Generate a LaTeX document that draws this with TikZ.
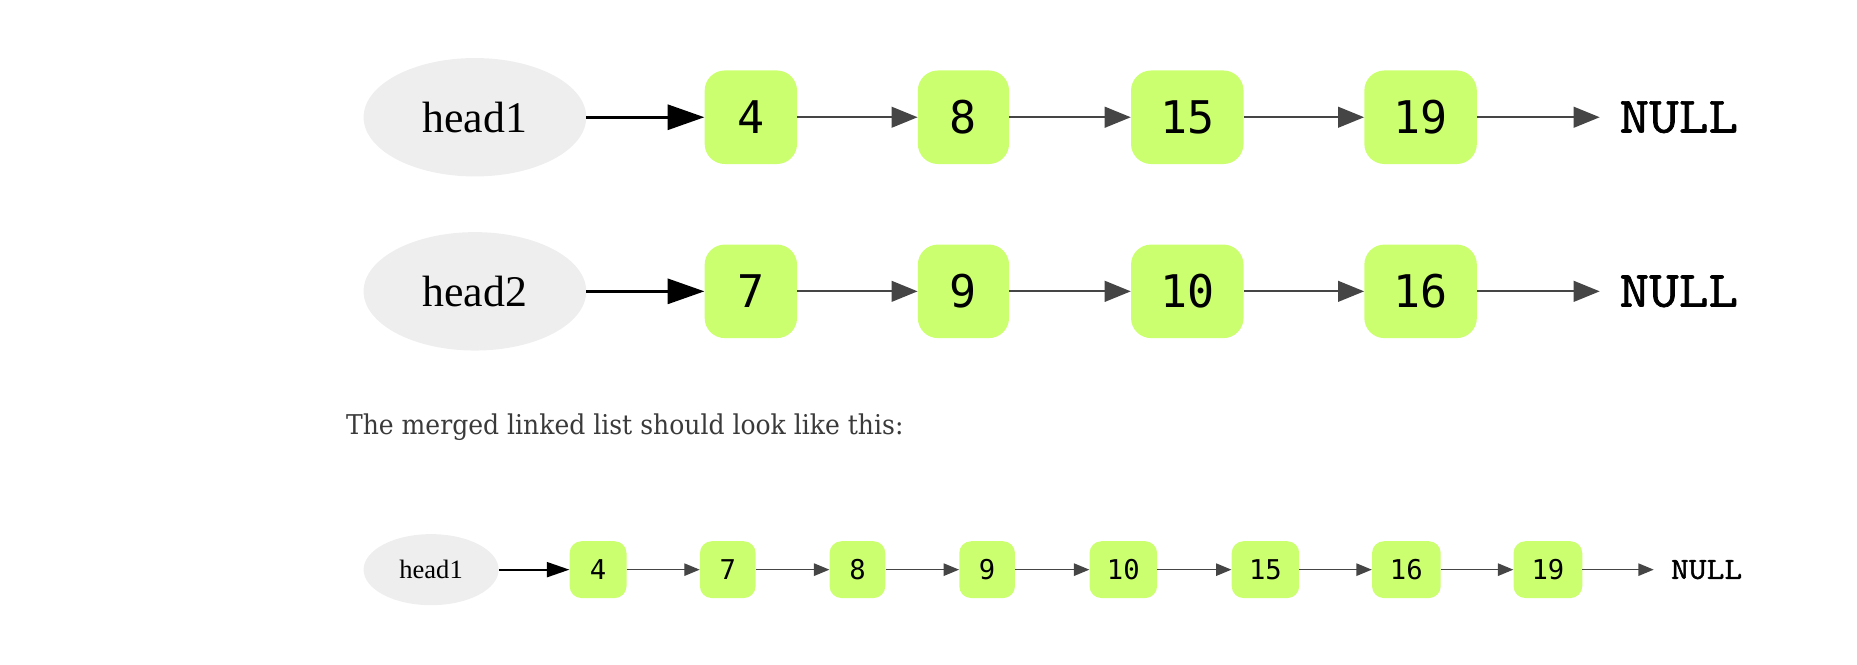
\documentclass[tikz,border=0pt]{standalone}
\usepackage{fontspec}
\usetikzlibrary{arrows.meta,shapes.geometric}
\newfontfamily\headfont{Liberation Serif}
\newfontfamily\numfont{DejaVu Sans Mono}
\newfontfamily\bodyfont[FakeStretch=0.92]{DejaVu Serif}
\newfontfamily\nullfnt[FakeStretch=1.13,FakeBold=1.4]{Latin Modern Mono}
\definecolor{boxgreen}{HTML}{CCFF70}
\definecolor{headgray}{HTML}{EEEEEE}
\definecolor{arrgray}{HTML}{454545}
\definecolor{bodytext}{HTML}{3A3A3A}
\begin{document}
\begin{tikzpicture}[x=1pt,y=-1pt,
  headbig/.style={ellipse,fill=headgray,minimum width=188pt,minimum height=100pt,inner sep=0pt,font=\headfont\fontsize{37}{40}\selectfont},
  headsmall/.style={ellipse,fill=headgray,minimum width=114pt,minimum height=60pt,inner sep=0pt,font=\headfont\fontsize{22.4}{24}\selectfont},
  boxbig/.style={rectangle,rounded corners=17pt,fill=boxgreen,minimum height=79pt,inner sep=0pt,font=\numfont\fontsize{38}{40}\selectfont},
  boxsmall/.style={rectangle,rounded corners=10pt,fill=boxgreen,minimum height=48pt,inner sep=0pt,font=\numfont\fontsize{23}{25}\selectfont},
  nullbig/.style={inner ysep=0pt,inner xsep=16.5pt,font=\nullfnt\fontsize{43}{46}\selectfont},
  nullsmall/.style={inner ysep=0pt,inner xsep=14.4pt,font=\nullfnt\fontsize{25.8}{28}\selectfont},
  linkbig/.style={draw=arrgray,line width=1.7pt,-{Triangle[length=22pt,width=17.5pt]}},
  linksmall/.style={draw=arrgray,line width=1.1pt,-{Triangle[length=13pt,width=10.5pt]}},
  startbig/.style={draw=black,line width=2.8pt,-{Triangle[length=31pt,width=21pt]}},
  startsmall/.style={draw=black,line width=1.7pt,-{Triangle[length=19pt,width=12.6pt]}}
]
\useasboundingbox (0,0) rectangle (1568,561);

% ---- row 1 ----
\node[headbig] (h1) at (401,99) {head1};
\node[boxbig,minimum width=78pt] (a4) at (634,99) {4};
\node[boxbig,minimum width=77pt] (a8) at (813.5,99) {8};
\node[boxbig,minimum width=95pt] (a15) at (1002.5,99) {15};
\node[boxbig,minimum width=95pt] (a19) at (1199.5,99) {19};
\node[nullbig] (an) at (1417.5,99) {NULL};
\draw[startbig] (h1.east) -- (a4.west);
\draw[linkbig] (a4.east) -- (a8.west);
\draw[linkbig] (a8.east) -- (a15.west);
\draw[linkbig] (a15.east) -- (a19.west);
\draw[linkbig] (a19.east) -- (an.west);

% ---- row 2 ----
\node[headbig] (h2) at (401,246) {head2};
\node[boxbig,minimum width=78pt] (b7) at (634,246) {7};
\node[boxbig,minimum width=77pt] (b9) at (813.5,246) {9};
\node[boxbig,minimum width=95pt] (b10) at (1002.5,246) {10};
\node[boxbig,minimum width=95pt] (b16) at (1199.5,246) {16};
\node[nullbig] (bn) at (1417.5,246) {NULL};
\draw[startbig] (h2.east) -- (b7.west);
\draw[linkbig] (b7.east) -- (b9.west);
\draw[linkbig] (b9.east) -- (b10.west);
\draw[linkbig] (b10.east) -- (b16.west);
\draw[linkbig] (b16.east) -- (bn.west);

% ---- text ----
\node[anchor=base west,inner sep=0pt,text=bodytext,font=\bodyfont\fontsize{23}{26}\selectfont] (txt) at (292,367) {The merged linked list should look like this:};

% ---- row 3 ----
\node[headsmall] (h3) at (364,481) {head1};
\node[boxsmall,minimum width=48pt] (c4) at (505,481) {4};
\node[boxsmall,minimum width=47pt] (c7) at (614.5,481) {7};
\node[boxsmall,minimum width=47pt] (c8) at (724,481) {8};
\node[boxsmall,minimum width=47pt] (c9) at (833.5,481) {9};
\node[boxsmall,minimum width=57pt] (c10) at (948.5,481) {10};
\node[boxsmall,minimum width=57pt] (c15) at (1068.5,481) {15};
\node[boxsmall,minimum width=58pt] (c16) at (1187.5,481) {16};
\node[boxsmall,minimum width=58pt] (c19) at (1307,481) {19};
\node[nullsmall] (cn) at (1441,481) {NULL};
\draw[startsmall] (h3.east) -- (c4.west);
\draw[linksmall] (c4.east) -- (c7.west);
\draw[linksmall] (c7.east) -- (c8.west);
\draw[linksmall] (c8.east) -- (c9.west);
\draw[linksmall] (c9.east) -- (c10.west);
\draw[linksmall] (c10.east) -- (c15.west);
\draw[linksmall] (c15.east) -- (c16.west);
\draw[linksmall] (c16.east) -- (c19.west);
\draw[linksmall] (c19.east) -- (cn.west);
\end{tikzpicture}
\end{document}
